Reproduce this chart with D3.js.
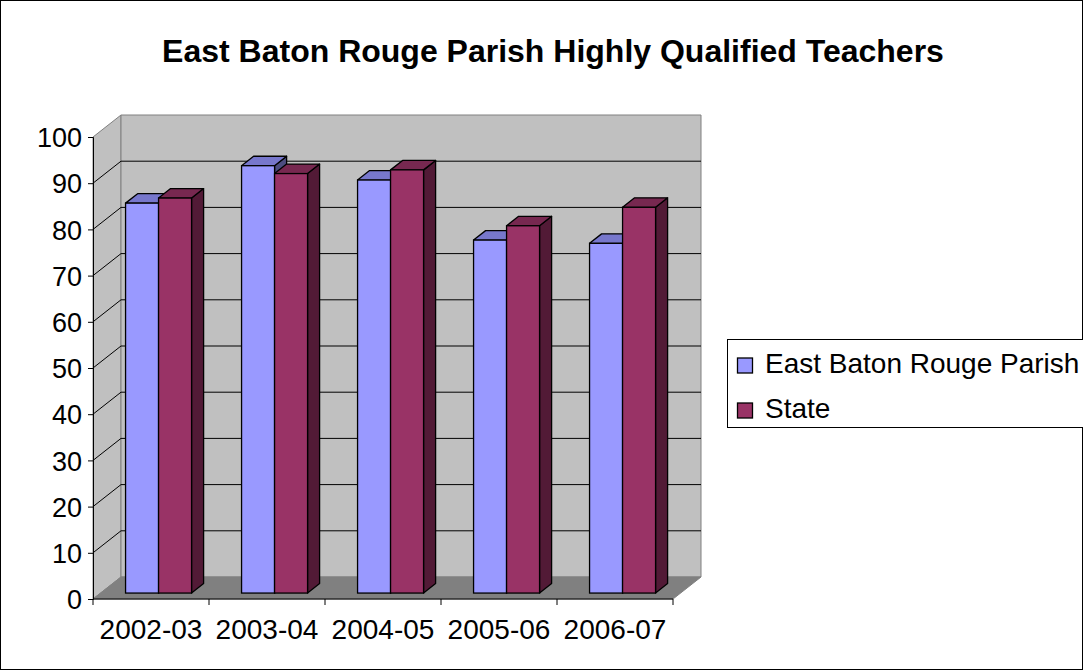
<!DOCTYPE html>
<html>
<head>
<meta charset="utf-8">
<script src="https://cdn.jsdelivr.net/npm/d3@7"></script>
<style>
  body { margin: 0; background: #fff; }
  svg { display: block; font-family: "Liberation Sans", Arial, sans-serif; }
</style>
</head>
<body>
<div id="chart"></div>
<script>
const categories = ["2002-03", "2003-04", "2004-05", "2005-06", "2006-07"];
const seriesNames = ["East Baton Rouge Parish", "State"];
const parishValues = [84.4, 92.5, 89.4, 76.4, 75.7];
const stateValues = [85.5, 90.8, 91.6, 79.5, 83.5];
const yTicks = [0, 10, 20, 30, 40, 50, 60, 70, 80, 90, 100];

const colors = [
  { front: "#9999ff", top: "#7777cc", side: "#4d4d80" },
  { front: "#993366", top: "#772850", side: "#521a36" }
];

const W = 1083, H = 670;
const svg = d3.select("#chart").append("svg")
  .attr("width", W).attr("height", H);

// outer border
svg.append("rect").attr("x", 0.5).attr("y", 0.5)
  .attr("width", W - 1).attr("height", H - 1)
  .attr("fill", "#fff").attr("stroke", "#000");

svg.append("text")
  .attr("x", 553).attr("y", 62)
  .attr("text-anchor", "middle")
  .attr("font-size", 32).attr("font-weight", "bold")
  .text("East Baton Rouge Parish Highly Qualified Teachers");

// plot geometry (front plane)
const x0 = 93, x1 = 673, yBase = 599, yTop = 137;
const depth = { dx: 28, dy: -22 };

const x = d3.scaleBand().domain(categories).range([x0, x1]).paddingInner(0).paddingOuter(0);
const y = d3.scaleLinear().domain([0, 100]).range([yBase, yTop]);
const h = v => yBase - y(v);

const pt = (px, py, f) => [px + depth.dx * f, py + depth.dy * f];
const poly = pts => pts.map(p => p.join(",")).join(" ");

const g = svg.append("g");

// side wall
g.append("polygon")
  .attr("points", poly([[x0, yBase], [x0, yTop], pt(x0, yTop, 1), pt(x0, yBase, 1)]))
  .attr("fill", "#c0c0c0").attr("stroke", "#808080");
// back wall
g.append("polygon")
  .attr("points", poly([pt(x0, yTop, 1), pt(x1, yTop, 1), pt(x1, yBase, 1), pt(x0, yBase, 1)]))
  .attr("fill", "#c0c0c0").attr("stroke", "#808080");
// floor
g.append("polygon")
  .attr("points", poly([[x0, yBase], [x1, yBase], pt(x1, yBase, 1), pt(x0, yBase, 1)]))
  .attr("fill", "#808080").attr("stroke", "#808080");

// gridlines
const grid = yTicks.filter(t => t > 0 && t < 100);
g.selectAll(".gback").data(grid).join("line")
  .attr("x1", pt(x0, y(0), 1)[0]).attr("x2", pt(x1, y(0), 1)[0])
  .attr("y1", t => pt(x0, y(t), 1)[1]).attr("y2", t => pt(x0, y(t), 1)[1])
  .attr("stroke", "#000");
g.selectAll(".gside").data(grid).join("line")
  .attr("x1", x0).attr("y1", t => y(t))
  .attr("x2", pt(x0, 0, 1)[0]).attr("y2", t => pt(x0, y(t), 1)[1])
  .attr("stroke", "#000");

// bars
const barW = 33, barDepthF = 0.43, barFrontF = 0.27;
const groupW = barW * 2;
const rows = categories.map((c, i) => [parishValues[i], stateValues[i]]);

categories.forEach((c, i) => {
  const cx = x(c) + x.bandwidth() / 2;
  rows[i].forEach((v, s) => {
    const left = cx - groupW / 2 + s * barW;
    const [fx, fyb] = pt(left, yBase, barFrontF);
    const fyt = fyb - h(v);
    const ddx = depth.dx * barDepthF, ddy = depth.dy * barDepthF;
    const bg = g.append("g");
    bg.append("polygon")
      .attr("points", poly([[fx + barW, fyt], [fx + barW + ddx, fyt + ddy], [fx + barW + ddx, fyb + ddy], [fx + barW, fyb]]))
      .attr("fill", colors[s].side).attr("stroke", "#000").attr("stroke-width", 1.3).attr("stroke-linejoin", "round");
    bg.append("polygon")
      .attr("points", poly([[fx, fyt], [fx + ddx, fyt + ddy], [fx + barW + ddx, fyt + ddy], [fx + barW, fyt]]))
      .attr("fill", colors[s].top).attr("stroke", "#000").attr("stroke-width", 1.3).attr("stroke-linejoin", "round");
    bg.append("rect")
      .attr("x", fx).attr("y", fyt).attr("width", barW).attr("height", h(v))
      .attr("fill", colors[s].front).attr("stroke", "#000").attr("stroke-width", 1.3);
  });
});

// y axis
const yAxis = svg.append("g").attr("transform", `translate(${x0},0)`)
  .call(d3.axisLeft(y).tickValues(yTicks).tickSize(5).tickPadding(6));
yAxis.select(".domain").attr("stroke", "#000");
yAxis.selectAll("text").attr("font-size", 27).attr("font-family", "Liberation Sans, Arial, sans-serif")
  .attr("fill", "#000").attr("dy", "0.36em");

// x axis
const xAxis = svg.append("g").attr("transform", `translate(0,${yBase})`);
xAxis.append("line").attr("x1", x0).attr("x2", x1).attr("stroke", "#000");
xAxis.selectAll(".tk").data(categories.concat(["end"])).join("line")
  .attr("x1", (d, i) => x0 + i * x.bandwidth()).attr("x2", (d, i) => x0 + i * x.bandwidth())
  .attr("y1", 0).attr("y2", 6).attr("stroke", "#000");
xAxis.selectAll(".lbl").data(categories).join("text")
  .attr("x", d => x(d) + x.bandwidth() / 2).attr("y", 40)
  .attr("text-anchor", "middle").attr("font-size", 28)
  .text(d => d);

// legend
const lg = svg.append("g");
lg.append("rect").attr("x", 727.5).attr("y", 339.5).attr("width", 400).attr("height", 88)
  .attr("fill", "#fff").attr("stroke", "#000");
seriesNames.forEach((n, i) => {
  const base = 373 + i * 45;
  lg.append("rect").attr("x", 737.5).attr("y", base - 15).attr("width", 15).attr("height", 15)
    .attr("fill", colors[i].front).attr("stroke", "#000").attr("stroke-width", 1.3);
  lg.append("text").attr("x", 765).attr("y", base).attr("font-size", 28).text(n);
});
</script>
</body>
</html>
